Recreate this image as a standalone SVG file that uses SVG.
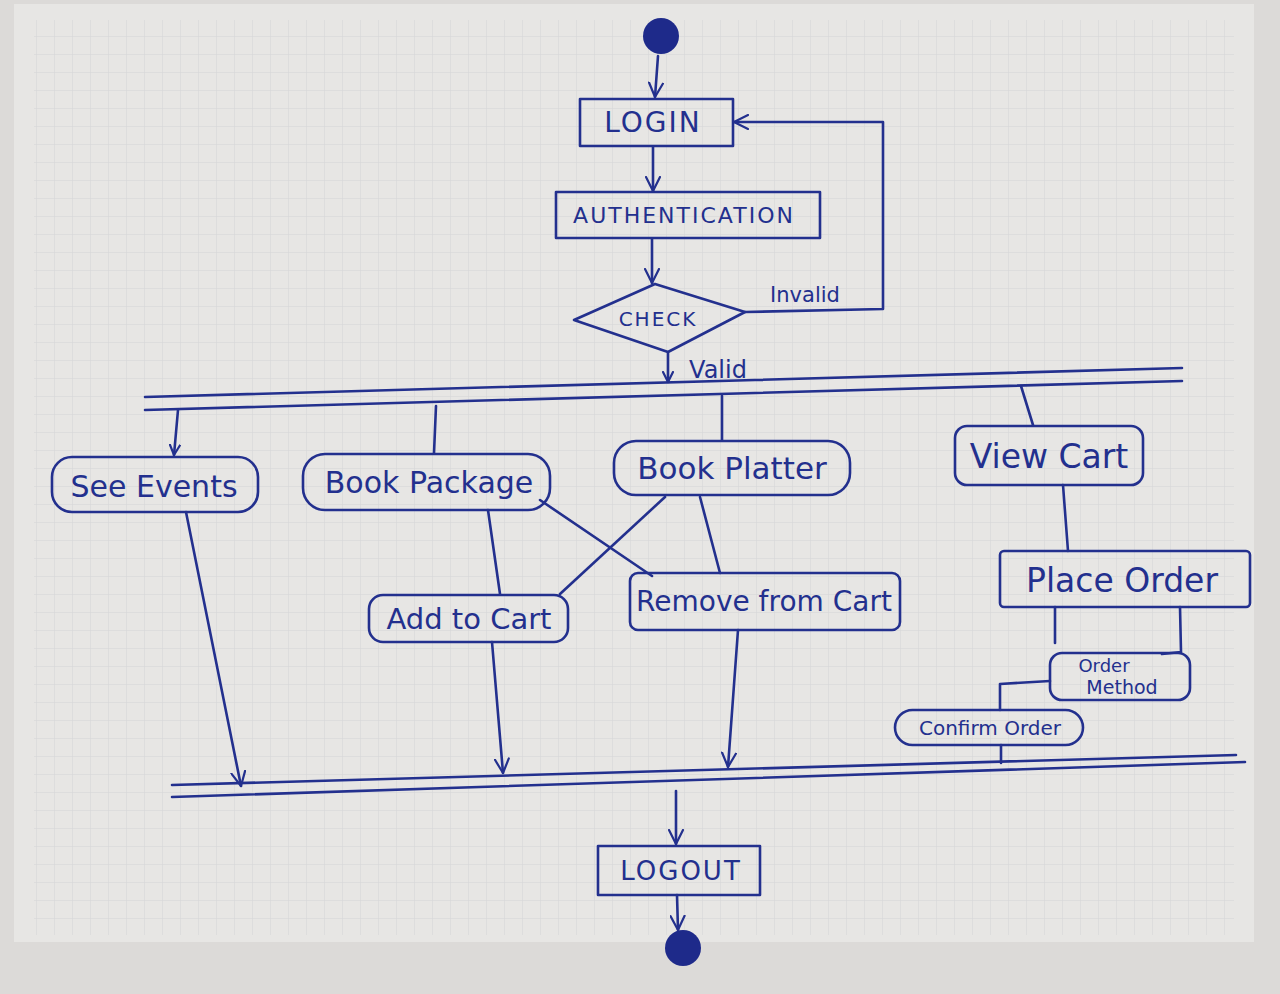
<svg xmlns="http://www.w3.org/2000/svg" width="1280" height="994" viewBox="0 0 1280 994">
<defs>
<pattern id="grid" width="18" height="18" patternUnits="userSpaceOnUse">
<path d="M18 0H0V18" fill="none" stroke="#d3d3d6" stroke-width="1"/>
</pattern>
<marker id="arr" viewBox="0 0 12 12" refX="11" refY="6" markerWidth="12" markerHeight="12" markerUnits="userSpaceOnUse" orient="auto">
<path d="M1 1L11 6L1 11" fill="none" stroke="#23308e" stroke-width="2.2" stroke-linecap="round" stroke-linejoin="round"/>
</marker>
<marker id="arrL" viewBox="0 0 16 16" refX="15" refY="8" markerWidth="16" markerHeight="16" markerUnits="userSpaceOnUse" orient="auto">
<path d="M1 1L15 8L1 15" fill="none" stroke="#23308e" stroke-width="2.2" stroke-linecap="round" stroke-linejoin="round"/>
</marker>
</defs>
<style>
.ink{fill:none;stroke:#23308e;stroke-width:2.6;stroke-linecap:round;stroke-linejoin:round}
.lbl{fill:#23308e;font-family:"DejaVu Sans","Liberation Sans",sans-serif;text-anchor:middle;dominant-baseline:central}
.cap{letter-spacing:2px}
.dot{fill:#1e2a8a}
</style>
<rect width="1280" height="994" fill="#dcdad8"/>
<rect x="14" y="4" width="1240" height="938" fill="#e7e6e4"/>
<rect x="34" y="20" width="1200" height="915" fill="url(#grid)"/>

<g id="start"><circle class="dot" cx="661" cy="36" r="18"/></g>
<g id="login"><rect class="ink" x="580" y="99" width="153" height="47"/><text class="lbl cap" x="653" y="122" font-size="28">LOGIN</text></g>
<g id="authentication"><rect class="ink" x="556" y="192" width="264" height="46"/><text class="lbl cap" x="684" y="215" font-size="22">AUTHENTICATION</text></g>
<g id="check"><polygon class="ink" points="574,320 655,284 745,312 668,352"/><text class="lbl cap" x="658" y="319" font-size="20">CHECK</text></g>
<g id="fork"><path class="ink" d="M145 397L1182 368M145 410L1182 381"/></g>
<g id="see-events"><rect class="ink" x="52" y="457" width="206" height="55" rx="20"/><text class="lbl" x="154" y="486" font-size="30">See Events</text></g>
<g id="book-package"><rect class="ink" x="303" y="454" width="247" height="56" rx="22"/><text class="lbl" x="429" y="482" font-size="30">Book Package</text></g>
<g id="book-platter"><rect class="ink" x="614" y="441" width="236" height="54" rx="22"/><text class="lbl" x="732" y="468" font-size="31">Book Platter</text></g>
<g id="view-cart"><rect class="ink" x="955" y="426" width="188" height="59" rx="12"/><text class="lbl" x="1049" y="456" font-size="33">View Cart</text></g>
<g id="add-to-cart"><rect class="ink" x="369" y="595" width="199" height="47" rx="14"/><text class="lbl" x="469" y="619" font-size="29">Add to Cart</text></g>
<g id="remove-from-cart"><rect class="ink" x="630" y="573" width="270" height="57" rx="8"/><text class="lbl" x="764" y="601" font-size="28">Remove from Cart</text></g>
<g id="place-order"><rect class="ink" x="1000" y="551" width="250" height="56" rx="4"/><text class="lbl" x="1122" y="580" font-size="33">Place Order</text></g>
<g id="order-method"><rect class="ink" x="1050" y="653" width="140" height="47" rx="12"/><text class="lbl" x="1104" y="665" font-size="18">Order</text><text class="lbl" x="1122" y="687" font-size="19">Method</text></g>
<g id="confirm-order"><rect class="ink" x="895" y="710" width="188" height="35" rx="17.5"/><text class="lbl" x="990" y="728" font-size="20">Confirm Order</text></g>
<g id="join"><path class="ink" d="M172 785L1236 755M172 797L1245 762"/></g>
<g id="logout"><rect class="ink" x="598" y="846" width="162" height="49"/><text class="lbl cap" x="681" y="871" font-size="26">LOGOUT</text></g>
<g id="end"><circle class="dot" cx="683" cy="948" r="18"/></g>

<g id="connectors">
<path class="ink" d="M658 56L655 97" marker-end="url(#arrL)"/>
<path class="ink" d="M653 147L653 191" marker-end="url(#arrL)"/>
<path class="ink" d="M652 239L652 283" marker-end="url(#arrL)"/>
<path class="ink" d="M745 312L883 309L883 122L734 122" marker-end="url(#arrL)"/>
<text class="lbl" x="805" y="295" font-size="21">Invalid</text>
<path class="ink" d="M668 353L668 382" marker-end="url(#arr)"/>
<text class="lbl" x="718" y="370" font-size="24">Valid</text>
<path class="ink" d="M178 410L174 455" marker-end="url(#arr)"/>
<path class="ink" d="M436 406L434 453"/>
<path class="ink" d="M722 396L722 440"/>
<path class="ink" d="M1021 386L1033 425"/>
<path class="ink" d="M186 512L241 786" marker-end="url(#arrL)"/>
<path class="ink" d="M488 510L500 594"/>
<path class="ink" d="M540 500L652 576"/>
<path class="ink" d="M665 497L560 594"/>
<path class="ink" d="M700 497L720 573"/>
<path class="ink" d="M492 642L503 773" marker-end="url(#arrL)"/>
<path class="ink" d="M738 630L728 767" marker-end="url(#arrL)"/>
<path class="ink" d="M1063 485L1068 551"/>
<path class="ink" d="M1055 607L1055 643"/>
<path class="ink" d="M1180 607L1181 652L1162 654"/>
<path class="ink" d="M1050 681L1000 684L1000 710"/>
<path class="ink" d="M1001 745L1001 763"/>
<path class="ink" d="M676 791L676 844" marker-end="url(#arrL)"/>
<path class="ink" d="M677 895L678 930" marker-end="url(#arrL)"/>
</g>
</svg>
